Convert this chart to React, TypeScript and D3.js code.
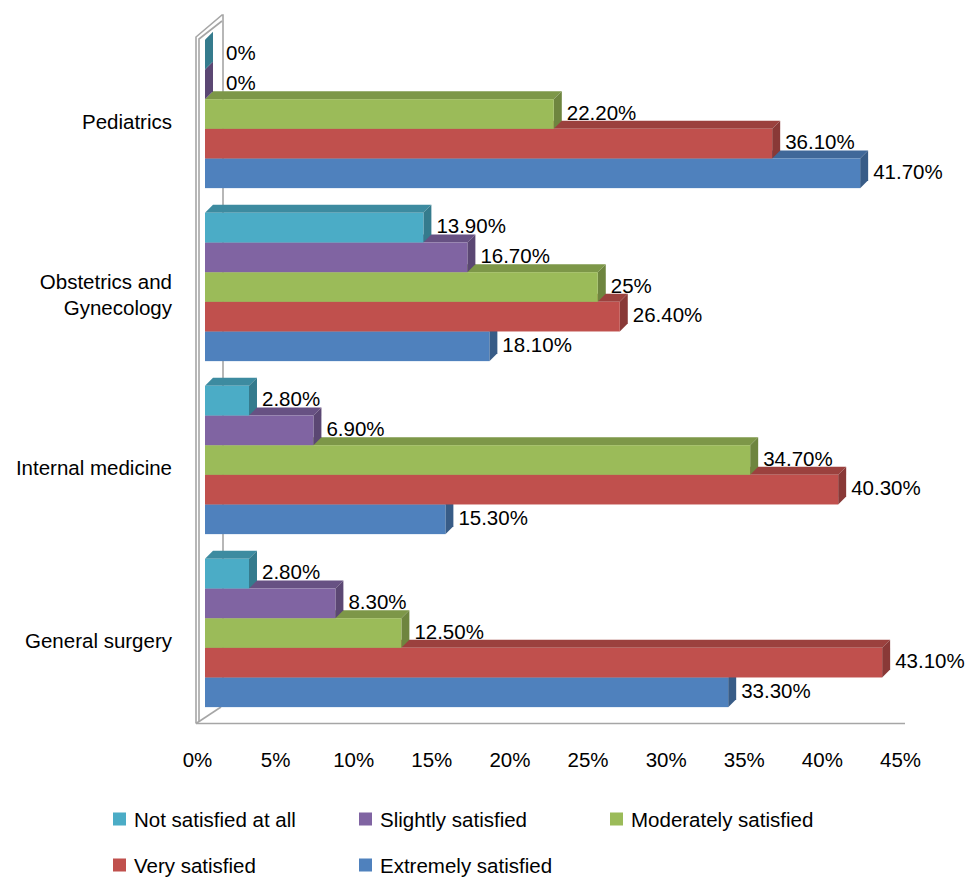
import React from "react";
import * as d3 from "d3";

const categories = ["Pediatrics", "Obstetrics and Gynecology", "Internal medicine", "General surgery"];
const categoryLines: string[][] = [["Pediatrics"], ["Obstetrics and", "Gynecology"], ["Internal medicine"], ["General surgery"]];
const seriesNames = ["Not satisfied at all", "Slightly satisfied", "Moderately satisfied", "Very satisfied", "Extremely satisfied"];
const seriesColors = ["#4BACC6", "#8064A2", "#9BBB59", "#C0504D", "#4F81BD"];
// values per series, in category order above
const notSatisfied = [0, 13.9, 2.8, 2.8];
const slightly = [0, 16.7, 6.9, 8.3];
const moderately = [22.2, 25, 34.7, 12.5];
const very = [36.1, 26.4, 40.3, 43.1];
const extremely = [41.7, 18.1, 15.3, 33.3];
const valueLabels = [
  ["0%", "13.90%", "2.80%", "2.80%"],
  ["0%", "16.70%", "6.90%", "8.30%"],
  ["22.20%", "25%", "34.70%", "12.50%"],
  ["36.10%", "26.40%", "40.30%", "43.10%"],
  ["41.70%", "18.10%", "15.30%", "33.30%"],
];
const tickValues = [0, 5, 10, 15, 20, 25, 30, 35, 40, 45];
const tickLabels = ["0%", "5%", "10%", "15%", "20%", "25%", "30%", "35%", "40%", "45%"];

const seriesValues = [notSatisfied, slightly, moderately, very, extremely];

const W = 969;
const H = 877;
const FONT = "'Liberation Sans', Arial, Helvetica, sans-serif";
const FS = 20.5;
const DX = 8;
const DY = -8;

export default function App() {
  const x = d3.scaleLinear().domain([0, 45]).range([205, 912]);
  const y0 = d3.scaleBand<string>().domain(categories).range([27.5, 719.5]).paddingInner(0.143).paddingOuter(0.0715);
  const y1 = d3.scaleBand<string>().domain(seriesNames).range([0, y0.bandwidth()]);
  const tickX = (v: number) => x(v) - 7.5 - (v / 45) * 4;

  const bars: React.ReactNode[] = [];
  const labels: React.ReactNode[] = [];
  // draw bottom groups first, and within a group the lower bars first
  const catOrder = categories.map((_, i) => i).reverse();
  const serOrder = seriesNames.map((_, i) => i).reverse();
  catOrder.forEach((ci) => {
    const cat = categories[ci];
    serOrder.forEach((si) => {
      const v = seriesValues[si][ci];
      const top = (y0(cat) as number) + (y1(seriesNames[si]) as number);
      const h = y1.bandwidth();
      const xl = x(0);
      const xr = x(v);
      const c = seriesColors[si];
      const topC = d3.color(c)!.darker(0.6).formatHex();
      const sideC = d3.color(c)!.darker(0.95).formatHex();
      const topPath = d3.path();
      topPath.moveTo(xl, top);
      topPath.lineTo(xr, top);
      topPath.lineTo(xr + DX, top + DY);
      topPath.lineTo(xl + DX, top + DY);
      topPath.closePath();
      const sidePath = d3.path();
      sidePath.moveTo(xr, top);
      sidePath.lineTo(xr + DX, top + DY);
      sidePath.lineTo(xr + DX, top + h + DY);
      sidePath.lineTo(xr, top + h);
      sidePath.closePath();
      bars.push(
        <g key={`b-${ci}-${si}`}>
          <path d={topPath.toString()} fill={topC} />
          <path d={sidePath.toString()} fill={sideC} />
          <rect x={xl} y={top} width={Math.max(0, xr - xl)} height={h} fill={c} />
        </g>
      );
      labels.push(
        <text key={`l-${ci}-${si}`} x={Math.max(xr + 13, xl + 21)} y={top + h / 2 - 2} dominantBaseline="central" fontSize={FS} fontFamily={FONT} fill="#000">
          {valueLabels[si][ci]}
        </text>
      );
    });
  });

  const wallColor = "#A6A6A6";
  const frontX = 196;
  const backX = 223;
  const floorY = 723.5;
  const backFloorY = 707;

  const legendRows = [
    { y: 819, items: [0, 1, 2] },
    { y: 865, items: [3, 4] },
  ];
  const legendX = [113, 359, 610];

  return (
    <svg width={W} height={H} style={{ position: "absolute", left: 0, top: 0, background: "#fff" }}>
      <rect x={0} y={0} width={W} height={H} fill="#fff" />
      {/* wall and floor */}
      <g fill="none" stroke={wallColor} strokeWidth={1.6}>
        <path d={`M${frontX},${floorY} L${frontX},37 L${backX - 1},15 L${backX},15 L${backX},${backFloorY}`} />
        <path d={`M${frontX + 3},${floorY - 2} L${frontX + 3},39 L${backX - 1},21`} />
        <path d={`M${frontX},${floorY} L${backX - 2},${backFloorY}`} />
        <path d={`M${frontX},${floorY} L905,${floorY}`} />
      </g>
      {bars}
      {labels}
      {/* category labels */}
      {categories.map((cat, ci) => {
        const cy = (y0(cat) as number) + y0.bandwidth() / 2 + 7;
        const lines = categoryLines[ci];
        const lh = 26;
        return (
          <text key={`c-${ci}`} textAnchor="end" fontSize={FS} fontFamily={FONT} fill="#000">
            {lines.map((ln, li) => (
              <tspan key={li} x={172} y={cy + (li - (lines.length - 1) / 2) * lh} dominantBaseline="central">
                {ln}
              </tspan>
            ))}
          </text>
        );
      })}
      {/* x tick labels */}
      {tickValues.map((v, i) => (
        <text key={`t-${i}`} x={tickX(v)} y={759} textAnchor="middle" dominantBaseline="central" fontSize={FS} fontFamily={FONT} fill="#000">
          {tickLabels[i]}
        </text>
      ))}
      {/* legend */}
      {legendRows.map((row, ri) =>
        row.items.map((si, k) => (
          <g key={`lg-${ri}-${k}`}>
            <rect x={legendX[k]} y={row.y - 6.5} width={13} height={13} fill={seriesColors[si]} />
            <text x={legendX[k] + 21} y={row.y} dominantBaseline="central" fontSize={FS} fontFamily={FONT} fill="#000">
              {seriesNames[si]}
            </text>
          </g>
        ))
      )}
    </svg>
  );
}
